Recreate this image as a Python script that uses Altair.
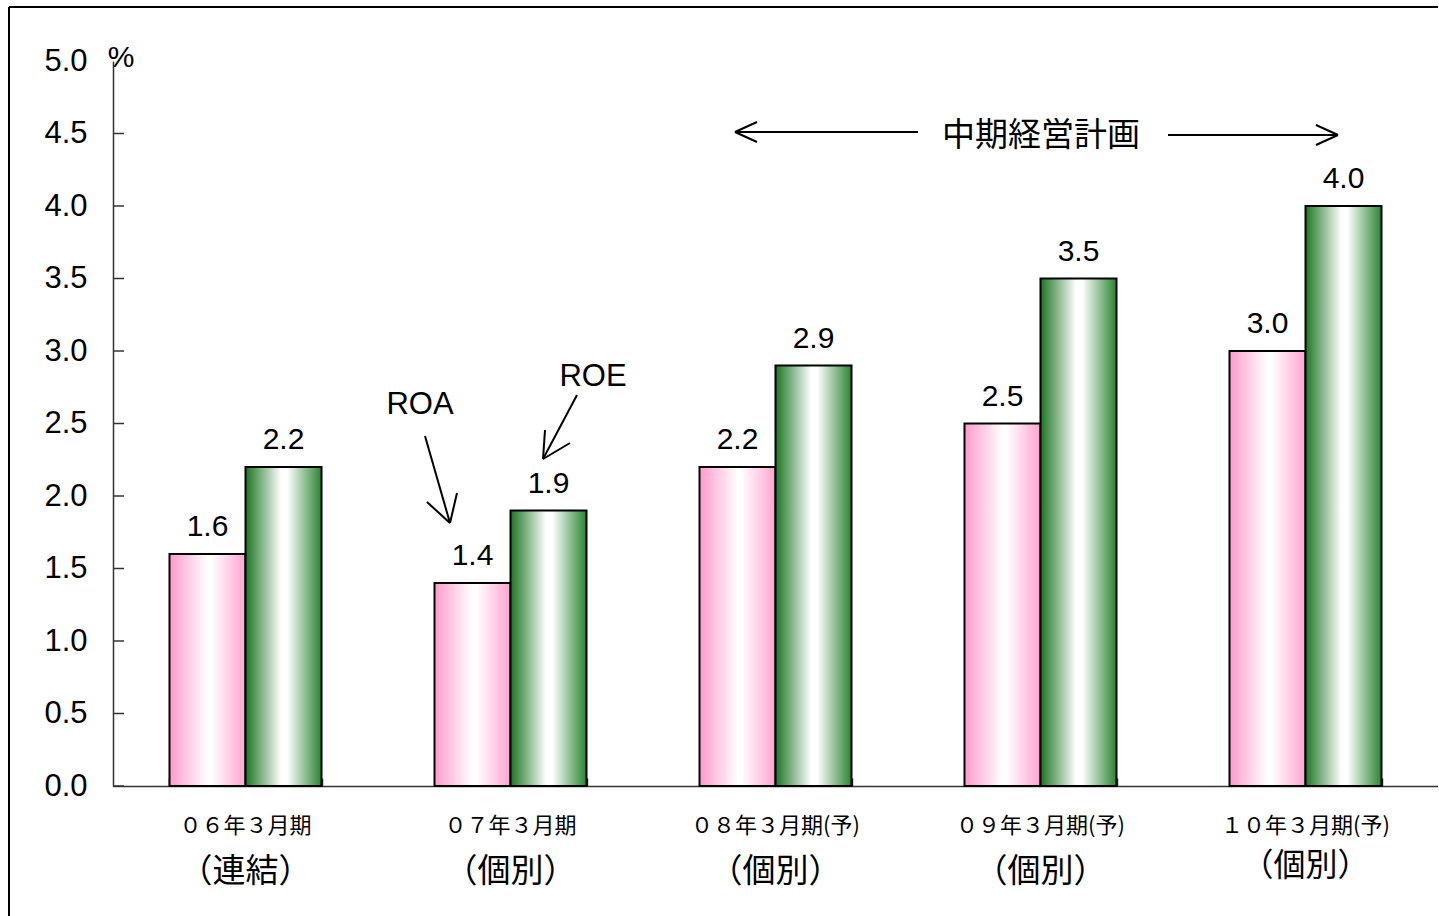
import altair as alt
import pandas as pd

# ---- data ----
periods = ["06年3月期", "07年3月期", "08年3月期(予)", "09年3月期(予)", "10年3月期(予)"]
line1 = ["０６年３月期", "０７年３月期", "０８年３月期(予)", "０９年３月期(予)", "１０年３月期(予)"]
line2 = ["（連結）", "（個別）", "（個別）", "（個別）", "（個別）"]
roa = [1.6, 1.4, 2.2, 2.5, 3.0]
roe = [2.2, 1.9, 2.9, 3.5, 4.0]
y_tick_values = [0.0, 0.5, 1.0, 1.5, 2.0, 2.5, 3.0, 3.5, 4.0, 4.5, 5.0]
inner_ticks = [0.0, 0.5, 1.0, 1.5, 2.0, 2.5, 3.0, 3.5, 4.0, 4.5]
series_names = ["ROA", "ROE"]

rows = []
for p, a, e in zip(periods, roa, roe):
    rows.append({"period": p, "series": "ROA", "value": a})
    rows.append({"period": p, "series": "ROE", "value": e})
df = pd.DataFrame(rows)
cat_df = pd.DataFrame({"period": periods, "line1": line1, "line2": line2})
tick_df = pd.DataFrame({"v": inner_ticks})
dummy = pd.DataFrame({"a": [0]})

W, H = 1325, 725
TOP = 61
LEFT = 113
P = 0.4264

xaxis = alt.Axis(orient="top", offset=-H, labels=False, title=None, tickBand="extent",
                 tickSize=8, tickColor="#333333", tickWidth=1.5,
                 domainColor="#333333", domainWidth=1.5, grid=False)
X = alt.X("period:N", sort=periods,
          scale=alt.Scale(domain=periods, paddingInner=P, paddingOuter=P / 2),
          axis=xaxis)
XO = alt.XOffset("series:N", sort=series_names,
                 scale=alt.Scale(domain=series_names, paddingInner=0, paddingOuter=0))
yaxis = alt.Axis(title=None, ticks=False, grid=False, values=y_tick_values, format=".1f",
                 labelFont="Liberation Sans", labelFontSize=31, labelColor="black",
                 labelPadding=26, domainColor="#333333", domainWidth=1.5)
Y = alt.Y("value:Q", scale=alt.Scale(domain=[0, 5], nice=False, zero=True), axis=yaxis)

pink = alt.Gradient(gradient="linear", x1=0, x2=1, y1=0, y2=0, stops=[
    alt.GradientStop(color="#ff9acc", offset=0),
    alt.GradientStop(color="#ffffff", offset=0.5),
    alt.GradientStop(color="#ffffff", offset=0.55),
    alt.GradientStop(color="#ffa3d1", offset=1)])
green = alt.Gradient(gradient="linear", x1=0, x2=1, y1=0, y2=0, stops=[
    alt.GradientStop(color="#1c7522", offset=0),
    alt.GradientStop(color="#ffffff", offset=0.47),
    alt.GradientStop(color="#ffffff", offset=0.55),
    alt.GradientStop(color="#288530", offset=1)])

base = alt.Chart(df)
roa_bars = base.transform_filter(alt.datum.series == "ROA").mark_bar(
    fill=pink, stroke="black", strokeWidth=2).encode(x=X, xOffset=XO, y=Y)
roe_bars = base.transform_filter(alt.datum.series == "ROE").mark_bar(
    fill=green, stroke="black", strokeWidth=2).encode(x=X, xOffset=XO, y=Y)
values = base.mark_text(font="Liberation Sans", fontSize=30, baseline="alphabetic",
                        dy=-18, color="black").encode(
    x=X, xOffset=XO, y=Y, text=alt.Text("value:Q", format=".1f"))

ytick_rules = alt.Chart(tick_df).mark_rule(color="#333333", strokeWidth=1.5).encode(
    y=alt.Y("v:Q", scale=alt.Scale(domain=[0, 5], nice=False), axis=yaxis),
    x=alt.value(0), x2=alt.value(11))

cat1 = alt.Chart(cat_df).mark_text(font="Noto Sans CJK JP", fontSize=22, baseline="middle",
                                   color="black").encode(
    x=X, y=alt.value(765), text="line1:N")
cat2 = alt.Chart(cat_df).transform_filter(alt.datum.period != periods[-1]).mark_text(
    font="Noto Sans CJK JP", fontSize=33, baseline="middle", color="black").encode(
    x=X, y=alt.value(811), text="line2:N")
cat2_last = alt.Chart(cat_df).transform_filter(alt.datum.period == periods[-1]).mark_text(
    font="Noto Sans CJK JP", fontSize=32, baseline="middle", color="black").encode(
    x=X, y=alt.value(805), text="line2:N")

# annotation segments (plot pixel coordinates, origin at plot top-left)
dx0 = 114 - LEFT
dy0 = 64 - TOP
segments = [
    # left arrow of 中期経営計画
    (621, 68, 804, 68), (621, 68, 643, 58), (621, 68, 643, 78),
    # right arrow
    (1054, 71, 1224, 71), (1224, 71, 1202, 61), (1224, 71, 1202, 81),
    # ROA arrow
    (311, 372, 336, 459), (336, 459, 313, 438), (336, 459, 343, 429),
    # ROE arrow
    (463, 331, 429, 395), (429, 395, 431, 366), (429, 395, 456, 379),
]
seg_layers = [
    alt.Chart(dummy).mark_rule(color="black", strokeWidth=2).encode(
        x=alt.value(a + dx0), y=alt.value(b + dy0), x2=alt.value(c + dx0), y2=alt.value(d + dy0))
    for a, b, c, d in segments
]

frame = [
    alt.Chart(dummy).mark_rule(color="black", strokeWidth=2).encode(
        x=alt.value(9 - LEFT), x2=alt.value(1340), y=alt.value(7 - TOP)),
    alt.Chart(dummy).mark_rule(color="black", strokeWidth=2).encode(
        x=alt.value(9 - LEFT), y=alt.value(7 - TOP), y2=alt.value(880)),
]

texts = [
    ("%", 7, -3, 30, "Liberation Sans"),
    ("ROA", 306, 341 + dy0, 31, "Liberation Sans"),
    ("ROE", 479, 313 + dy0, 31, "Liberation Sans"),
    ("中期経営計画", 927, 72 + dy0, 33, "Noto Sans CJK JP"),
]
text_layers = [
    alt.Chart(dummy).mark_text(text=t, font=f, fontSize=s, baseline="middle",
                               align="center", color="black").encode(
        x=alt.value(xx + dx0), y=alt.value(yy))
    for t, xx, yy, s, f in texts
]

chart = alt.layer(
    roa_bars, roe_bars, values, ytick_rules, cat1, cat2, cat2_last,
    *seg_layers, *frame, *text_layers
).properties(
    width=W, height=H,
    autosize=alt.AutoSizeParams(type="none"),
    padding={"left": LEFT, "top": TOP, "right": 0, "bottom": 916 - TOP - H},
    background="white",
).configure_view(strokeWidth=0)

chart.save("out.html", embed_options={"renderer": "svg", "actions": False})
